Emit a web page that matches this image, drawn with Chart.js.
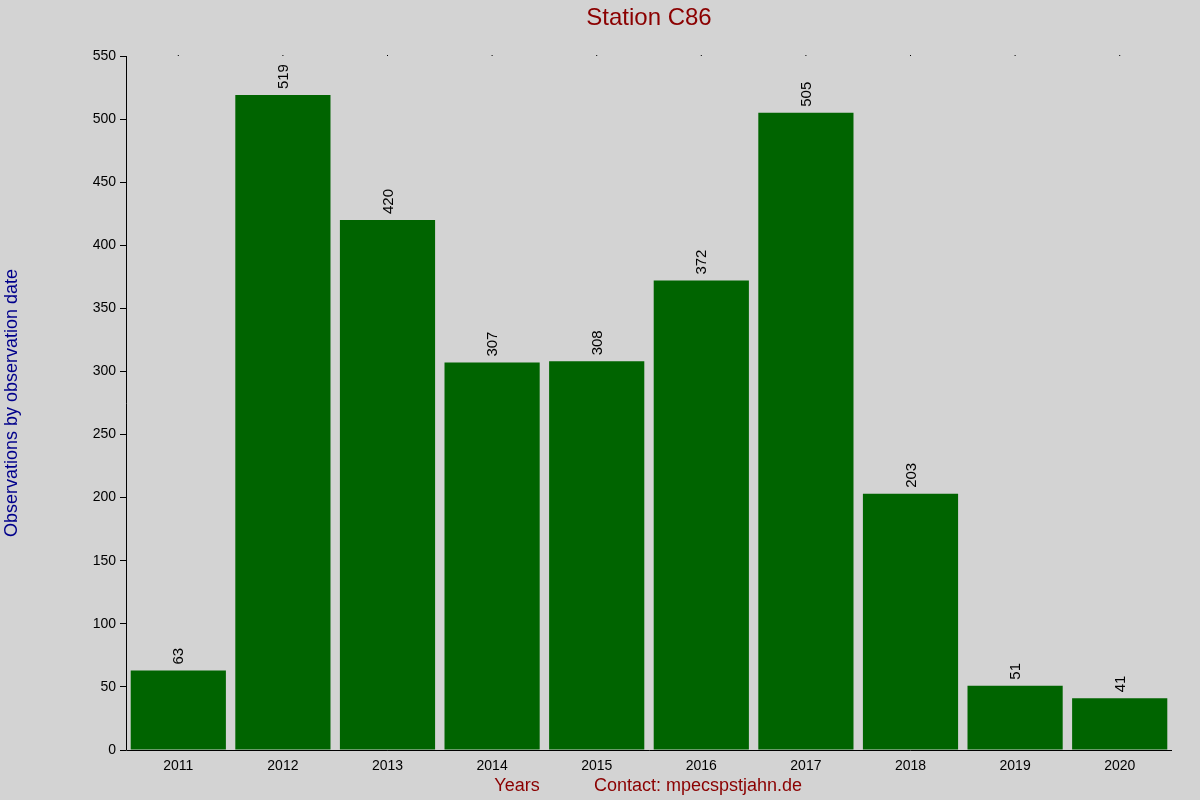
<!DOCTYPE html>
<html><head><style>body{margin:0;background:#d3d3d3}</style>
<script src="https://cdn.jsdelivr.net/npm/chart.js@4"></script></head>
<body><div style="width:1200px;height:800px"><canvas id="c" width="1200" height="800"></canvas></div>
<script>
const years=['2011','2012','2013','2014','2015','2016','2017','2018','2019','2020'];
const counts=[63,519,420,307,308,372,505,203,51,41];
const yTicks=[0,50,100,150,200,250,300,350,400,450,500,550];
const F='Liberation Sans, Arial, sans-serif';
const deco={id:'deco',beforeDraw(c){const x=c.ctx;x.save();x.fillStyle='#d3d3d3';x.fillRect(0,0,c.width,c.height);x.restore();},
afterDraw(c){const x=c.ctx,m=c.getDatasetMeta(0),a=c.chartArea;x.save();
x.fillStyle='#000';x.font='15px '+F;
m.data.forEach((b,i)=>{x.save();x.translate(b.x+5,b.y-6);x.rotate(-Math.PI/2);x.textAlign='left';x.textBaseline='alphabetic';x.fillText(counts[i],0,0);x.restore();
x.fillRect(b.x-0.5,a.top-1,1,1);});
x.strokeStyle='#000';x.lineWidth=1;x.beginPath();x.moveTo(a.left+0.5,a.top);x.lineTo(a.left+0.5,a.bottom+0.5);x.lineTo(a.right,a.bottom+0.5);x.stroke();
x.font='24px '+F;x.fillStyle='#8b0000';x.textAlign='center';x.textBaseline='middle';x.fillText('Station C86',649,18);
x.font='18px '+F;x.fillText('Years',517,786);x.fillText('Contact: mpecspstjahn.de',698,786);
x.fillStyle='#00008b';x.translate(12,403);x.rotate(-Math.PI/2);x.fillText('Observations by observation date',0,0);
x.restore();}};
new Chart(document.getElementById('c'),{type:'bar',
data:{labels:years,datasets:[{data:counts,backgroundColor:'#006400',barPercentage:0.91,categoryPercentage:1}]},
options:{responsive:false,animation:false,layout:{padding:{left:0,right:28,top:56,bottom:0}},
plugins:{legend:{display:false},tooltip:{enabled:false}},
scales:{x:{grid:{display:false,drawTicks:false},border:{display:false},ticks:{color:'#000',font:{size:14,family:F},padding:8,maxRotation:0},afterFit(s){s.height=50;}},
y:{min:0,max:550,afterBuildTicks(s){s.ticks=yTicks.map(v=>({value:v}));},grid:{display:true,drawOnChartArea:false,tickLength:6,color:'#000'},border:{display:false},
ticks:{color:'#000',font:{size:14,family:F},padding:4},afterFit(s){s.width=126;}}}},
plugins:[deco]});
</script></body></html>
